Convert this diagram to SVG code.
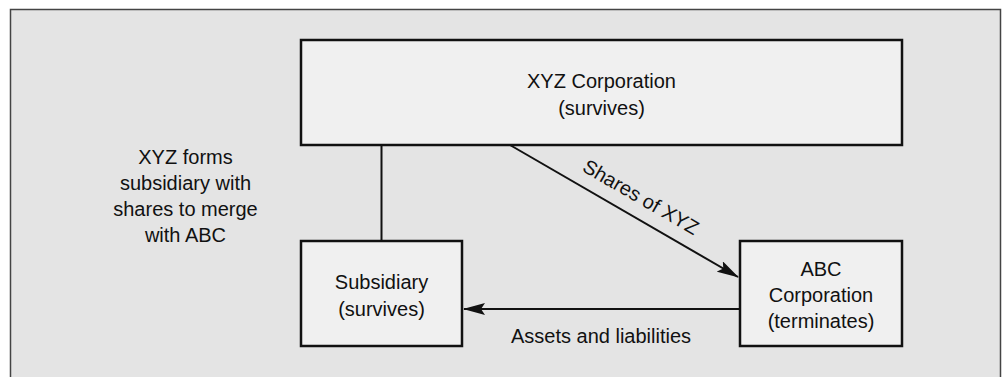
<svg xmlns="http://www.w3.org/2000/svg" width="1004" height="377" viewBox="0 0 1004 377">
  <style>
    .box { fill: #f0f0f0; stroke: #111; stroke-width: 2.5; }
    .lbl { font-family: "Liberation Sans", Arial, sans-serif; font-size: 20px; fill: #111; text-anchor: middle; }
    .conn { stroke: #111; stroke-width: 2; fill: none; }
  </style>
  <defs>
    <marker id="arrow" markerUnits="userSpaceOnUse" markerWidth="22" markerHeight="12" refX="21" refY="6" orient="auto">
      <path d="M0,0 L22,6 L0,12 L4,6 z" fill="#111"/>
    </marker>
  </defs>
  <rect x="0" y="0" width="1004" height="377" fill="#ffffff"/>
  <rect id="panel" x="10.5" y="9.5" width="990" height="380" fill="#e4e4e4" stroke="#444" stroke-width="1.5"/>

  <g id="connectors">
    <line class="conn" x1="381.5" y1="145" x2="381.5" y2="241"/>
    <line class="conn" x1="510" y1="145" x2="738" y2="277" marker-end="url(#arrow)"/>
    <line class="conn" x1="740" y1="309" x2="464" y2="309" marker-end="url(#arrow)"/>
    <text class="lbl" transform="translate(637.5,203) rotate(30)">Shares of XYZ</text>
    <text class="lbl" x="601" y="343">Assets and liabilities</text>
  </g>

  <g id="xyz">
    <rect class="box" x="301" y="40" width="601" height="105"/>
    <text class="lbl" x="601.5" y="88">XYZ Corporation</text>
    <text class="lbl" x="601.5" y="115">(survives)</text>
  </g>

  <g id="subsidiary">
    <rect class="box" x="301" y="241" width="161" height="105"/>
    <text class="lbl" x="381.5" y="289">Subsidiary</text>
    <text class="lbl" x="381.5" y="316">(survives)</text>
  </g>

  <g id="abc">
    <rect class="box" x="740" y="241" width="162" height="105"/>
    <text class="lbl" x="821" y="276">ABC</text>
    <text class="lbl" x="821" y="302">Corporation</text>
    <text class="lbl" x="821" y="328">(terminates)</text>
  </g>

  <g id="note">
    <text class="lbl" x="185.5" y="164">XYZ forms</text>
    <text class="lbl" x="185.5" y="190">subsidiary with</text>
    <text class="lbl" x="185.5" y="216">shares to merge</text>
    <text class="lbl" x="185.5" y="242">with ABC</text>
  </g>
</svg>
